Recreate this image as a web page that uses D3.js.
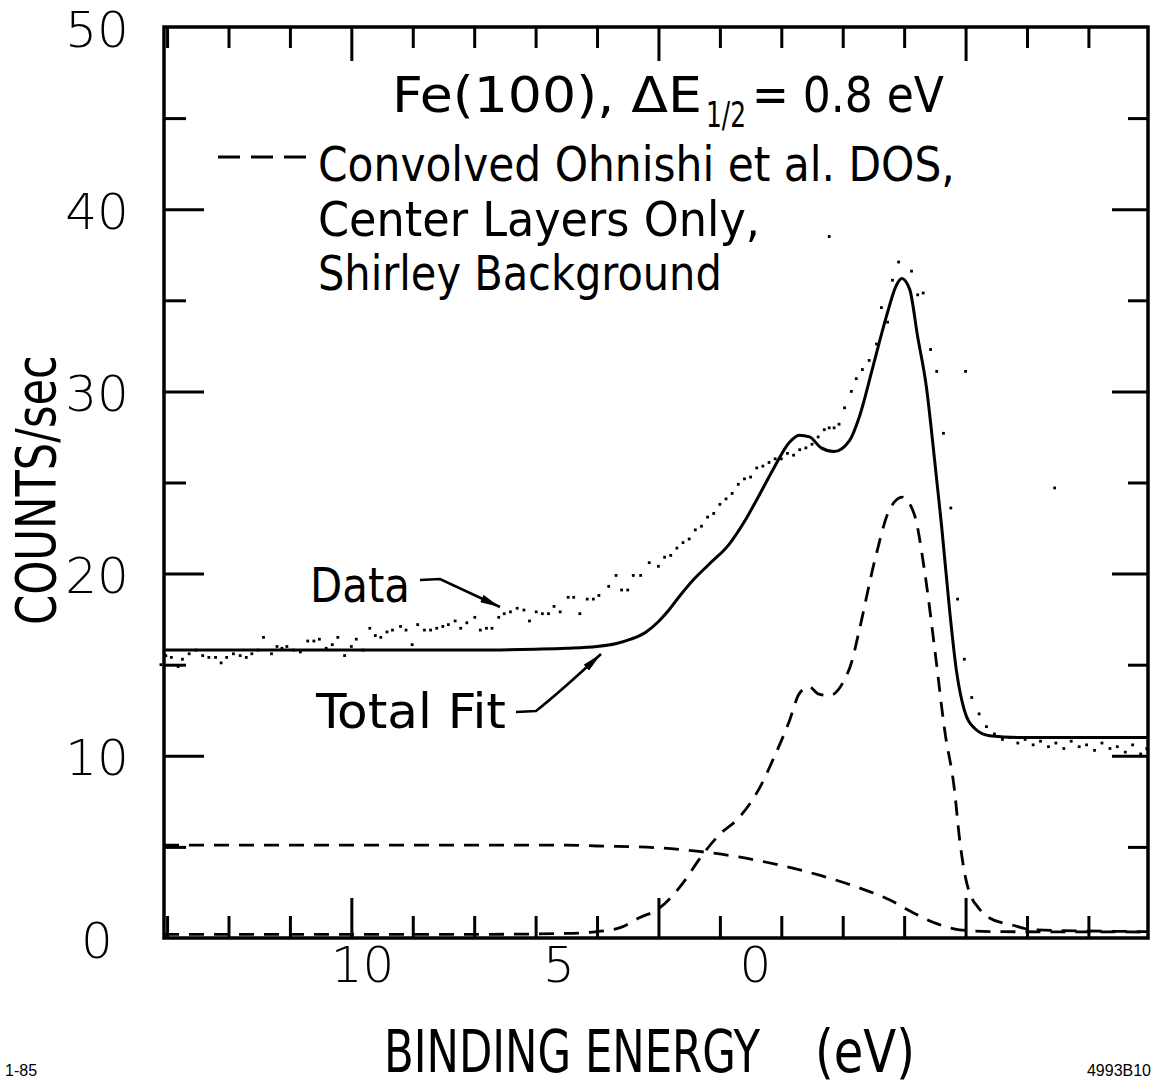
<!DOCTYPE html>
<html lang="en">
<head>
<meta charset="utf-8">
<title>Fe(100) Total Fit</title>
<script src="https://d3js.org/d3.v7.min.js"></script>
<style>
  body { margin: 0; background: #fff; }
  text { fill: #000; }
  .lbl { font-family: "Liberation Sans Narrow", "DejaVu Sans Condensed", sans-serif; }
</style>
</head>
<body>
<div id="chart"></div>
<script>
// data: [binding energy (eV), counts/sec]
var dataPoints = [
  [13.10,15.0],[13.02,15.5],[12.93,15.4],[12.82,14.9],[12.75,15.3],[12.64,15.6],[12.53,15.8],[12.42,15.5],
  [12.32,15.4],[12.21,15.4],[12.12,15.1],[12.03,15.4],[11.92,15.6],[11.81,15.5],[11.71,15.4],[11.62,15.6],
  [11.52,15.8],[11.43,16.5],[11.30,15.6],[11.21,16.0],[11.13,15.9],[11.05,16.0],[10.94,15.8],[10.83,15.7],
  [10.71,16.3],[10.61,16.3],[10.52,16.4],[10.41,15.9],[10.31,16.1],[10.22,16.5],[10.11,15.5],[10.00,16.0],
  [9.92,16.4],[9.81,15.8],[9.70,17.0],[9.61,16.6],[9.52,16.5],[9.42,16.8],[9.33,16.9],[9.20,17.1],
  [9.11,16.9],[9.01,16.1],[8.92,17.2],[8.81,16.9],[8.71,16.9],[8.61,17.0],[8.51,17.1],[8.42,17.2],
  [8.31,17.4],[8.22,17.0],[8.12,17.3],[7.99,17.6],[7.90,16.9],[7.80,17.0],[7.71,17.0],[7.60,17.6],
  [7.51,17.8],[7.41,17.9],[7.30,18.1],[7.19,18.0],[7.10,17.4],[6.99,17.9],[6.89,17.8],[6.79,17.8],
  [6.70,18.2],[6.60,17.9],[6.47,18.7],[6.38,18.7],[6.28,17.8],[6.16,18.6],[6.06,18.6],[5.97,18.8],
  [5.81,19.3],[5.69,19.9],[5.60,19.1],[5.50,19.1],[5.41,19.9],[5.29,19.9],[5.15,20.6],[5.00,20.4],
  [4.90,20.9],[4.80,21.0],[4.70,21.4],[4.60,21.7],[4.50,21.9],[4.40,22.4],[4.30,22.6],[4.20,23.1],
  [4.10,23.3],[4.00,23.8],[3.90,24.1],[3.80,24.4],[3.70,24.9],[3.60,25.2],[3.50,25.3],[3.40,25.8],
  [3.30,25.9],[3.20,26.1],[3.10,26.3],[3.00,26.3],[2.90,26.6],[2.80,26.5],[2.70,26.8],[2.60,26.9],
  [2.50,27.1],[2.40,27.5],[2.30,27.9],[2.22,28.0],[2.14,28.0],[2.06,28.2],[1.97,29.1],[1.86,30.0],
  [1.78,30.7],[1.68,31.2],[1.57,31.7],[1.45,32.6],[1.37,34.6],[1.27,33.8],[1.19,36.1],[1.09,37.1],
  [0.88,36.6],[0.78,35.3],[0.69,35.4],[0.57,32.3],[0.47,31.1],[0.36,27.7],[0.24,23.6],[0.13,18.6],
  [0.02,15.3],[-0.10,13.2],[-0.22,12.3],[-0.34,11.6],[-0.47,11.2],[-0.60,10.9],[-0.72,11.0],[-0.85,10.7],
  [-0.97,10.9],[-1.10,10.6],[-1.22,10.8],[-1.35,10.5],[-1.47,10.7],[-1.60,10.4],[-1.72,10.8],[-1.85,10.5],
  [-1.97,10.6],[-2.10,10.3],[-2.22,10.7],[-2.35,10.4],[-2.47,10.5],[-2.60,10.2],[-2.72,10.6],[-2.85,10.1],
  [-2.95,10.4],
  [0.00,31.1],[-1.45,24.7],[2.22,38.5]
];

var totalFit = [
  [13.05,15.8],[10.0,15.8],[8.0,15.8],[7.0,15.85],[6.5,15.9],[6.0,16.0],[5.7,16.15],[5.45,16.4],
  [5.2,16.8],[4.99,17.4],[4.83,18.0],[4.67,18.7],[4.42,19.7],[4.18,20.5],[3.85,21.6],[3.61,22.8],
  [3.36,24.3],[3.12,25.8],[2.87,27.2],[2.71,27.6],[2.54,27.5],[2.35,26.9],[2.14,26.7],[1.89,27.3],
  [1.73,28.6],[1.52,31.2],[1.29,34.1],[1.13,35.8],[1.04,36.2],[0.91,35.6],[0.78,33.0],[0.64,30.3],
  [0.50,26.1],[0.39,22.6],[0.26,18.0],[0.15,14.7],[0.02,12.5],[-0.15,11.5],[-0.39,11.1],[-0.88,11.0],
  [-2.97,11.0]
];

var dosCurve = [
  [13.05,0.2],[8.0,0.2],[6.5,0.25],[6.0,0.35],[5.6,0.6],[5.32,1.1],[5.0,1.6],[4.75,2.4],
  [4.56,3.2],[4.34,4.3],[4.0,5.7],[3.69,6.6],[3.36,8.2],[3.12,9.9],[2.87,11.9],[2.71,13.4],
  [2.55,13.8],[2.40,13.4],[2.22,13.3],[2.0,14.0],[1.85,15.2],[1.73,16.9],[1.48,20.7],[1.24,23.5],
  [1.03,24.2],[0.83,23.2],[0.67,20.2],[0.50,15.8],[0.34,11.4],[0.18,8.1],[0.10,5.5],[0.0,3.3],
  [-0.10,2.2],[-0.20,1.7],[-0.39,1.1],[-0.77,0.7],[-1.10,0.45],[-2.97,0.35]
];

var shirleyBg = [
  [13.05,5.1],[6.5,5.1],[6.0,5.05],[5.0,4.95],[4.34,4.75],[3.69,4.45],[3.03,4.0],[2.38,3.45],
  [1.73,2.75],[1.24,2.1],[0.89,1.45],[0.48,0.8],[0.10,0.45],[-0.40,0.35],[-2.97,0.33]
];

var yTickLabels = [0, 10, 20, 30, 40, 50];
var yMajor = [10, 20, 30, 40];
var yMinor = [5, 15, 25, 35, 45];
var xMajor = [10, 5, 0];
var xMinor = [13, 12, 11, 9, 8, 7, 6, 4, 3, 2, 1, -1, -2];
var xTickLabels = [10, 5, 0];

var W = 1153, H = 1085;
var frame = {left: 164, right: 1148, top: 27, bottom: 938};

var svg = d3.select("#chart").append("svg")
  .attr("width", W).attr("height", H);

var x = d3.scaleLinear().domain([13.05, -2.97]).range([frame.left, frame.right]);
var y = d3.scaleLinear().domain([0, 50]).range([frame.bottom, frame.top]);
// the printed energy numbers sit at their own spacing in the figure
var xLabelPos = d3.scaleLinear().domain([10, 0]).range([362, 755]);

// inward ticks on all four sides
function tickSet(axisFn, scale, values, len, tx, ty) {
  svg.append("g")
    .attr("transform", "translate(" + tx + "," + ty + ")")
    .call(axisFn(scale).tickValues(values).tickSize(-len).tickFormat(""))
    .call(function(g) { g.select(".domain").remove(); })
    .selectAll("line").attr("stroke", "#000").attr("stroke-width", 3);
}
tickSet(d3.axisBottom, x, xMajor, 40, 0, frame.bottom);
tickSet(d3.axisBottom, x, xMinor, 22, 0, frame.bottom);
tickSet(d3.axisTop, x, xMajor, 34, 0, frame.top);
tickSet(d3.axisTop, x, xMinor, 21, 0, frame.top);
tickSet(d3.axisLeft, y, yMajor, 40, frame.left, 0);
tickSet(d3.axisLeft, y, yMinor, 22, frame.left, 0);
tickSet(d3.axisRight, y, yMajor, 36, frame.right, 0);
tickSet(d3.axisRight, y, yMinor, 20, frame.right, 0);

svg.append("rect")
  .attr("x", frame.left).attr("y", frame.top)
  .attr("width", frame.right - frame.left).attr("height", frame.bottom - frame.top)
  .attr("fill", "none").attr("stroke", "#000").attr("stroke-width", 3.5);

// tick labels
var yAx = svg.append("g")
  .attr("transform", "translate(" + frame.left + ",0)")
  .call(d3.axisLeft(y).tickValues(yTickLabels).tickSize(0));
yAx.select(".domain").remove();
yAx.selectAll("text")
  .attr("x", -67).attr("dy", "0.38em")
  .attr("text-anchor", "middle")
  .style("font-size", "50px").style("font-family", "DejaVu Sans").style("font-weight", 200);

var xAx = svg.append("g")
  .attr("transform", "translate(0," + frame.bottom + ")")
  .call(d3.axisBottom(xLabelPos).tickValues(xTickLabels).tickSize(0).tickPadding(8));
xAx.select(".domain").remove();
xAx.selectAll("text")
  .style("font-size", "50px").style("font-family", "DejaVu Sans").style("font-weight", 200);

// curves
var line = d3.line()
  .x(function(d) { return x(d[0]); })
  .y(function(d) { return y(d[1]); })
  .curve(d3.curveMonotoneX);

svg.append("path").datum(shirleyBg)
  .attr("d", line).attr("fill", "none")
  .attr("stroke", "#000").attr("stroke-width", 2.8).attr("stroke-dasharray", "15,10");

svg.append("path").datum(dosCurve)
  .attr("d", line).attr("fill", "none")
  .attr("stroke", "#000").attr("stroke-width", 2.8).attr("stroke-dasharray", "15,10");

svg.append("path").datum(totalFit)
  .attr("d", line).attr("fill", "none")
  .attr("stroke", "#000").attr("stroke-width", 3);

svg.selectAll("rect.dot")
  .data(dataPoints)
  .enter().append("rect")
  .attr("class", "dot")
  .attr("x", function(d) { return x(d[0]) - 1.4; })
  .attr("y", function(d) { return y(d[1]) - 1.4; })
  .attr("width", 2.8).attr("height", 2.8)
  .attr("fill", "#000");

// annotation text, squeezed horizontally to the width it has in the figure
function label(txt, tx, ty, size, len, g) {
  var t = (g || svg).append("text").attr("class", "lbl")
    .style("font-size", size + "px")
    .text(txt);
  var sx = len ? len / t.node().getComputedTextLength() : 1;
  t.attr("transform", "translate(" + tx + "," + ty + ") scale(" + sx + ",1)");
  return t;
}

label("Fe(100), \u0394E", 392, 112, 50, 310);
label("1/2", 706, 127, 36, 40);
label("= 0.8 eV", 752, 112, 50, 192);

svg.append("line")
  .attr("x1", 218).attr("x2", 306).attr("y1", 157).attr("y2", 157)
  .attr("stroke", "#000").attr("stroke-width", 2.8).attr("stroke-dasharray", "22,11");

label("Convolved Ohnishi et al. DOS,", 318, 181, 48, 637);
label("Center Layers Only,", 318, 236, 48, 442);
label("Shirley Background", 318, 290, 48, 404);

label("Data", 310, 602, 48, 100);
label("Total Fit", 316, 728, 48, 190);

// arrows
svg.append("defs").append("marker")
  .attr("id", "head").attr("viewBox", "0 0 20 8")
  .attr("refX", 20).attr("refY", 4)
  .attr("markerWidth", 20).attr("markerHeight", 8)
  .attr("markerUnits", "userSpaceOnUse")
  .attr("orient", "auto")
  .append("path").attr("d", "M0,0 L20,4 L0,8 Z").attr("fill", "#000");

svg.append("path")
  .attr("d", "M420,580 L440,579 L500,607")
  .attr("fill", "none").attr("stroke", "#000").attr("stroke-width", 2.6)
  .attr("marker-end", "url(#head)");

svg.append("path")
  .attr("d", "M516,712 L536,711 Q560,692 601,654")
  .attr("fill", "none").attr("stroke", "#000").attr("stroke-width", 2.6)
  .attr("marker-end", "url(#head)");

// axis titles
var yTitle = svg.append("g").attr("transform", "translate(55,625) rotate(-90)");
label("COUNTS/sec", 0, 0, 56, 270, yTitle);

label("BINDING ENERGY", 384, 1072, 58, 376);
label("(eV)", 815, 1072, 58, 100);

svg.append("text").attr("x", 5).attr("y", 1076)
  .style("font-family", "Liberation Sans").style("font-size", "16px")
  .text("1-85");
svg.append("text").attr("x", 1151).attr("y", 1076).attr("text-anchor", "end")
  .style("font-family", "Liberation Sans").style("font-size", "16px")
  .text("4993B10");
</script>
</body>
</html>
